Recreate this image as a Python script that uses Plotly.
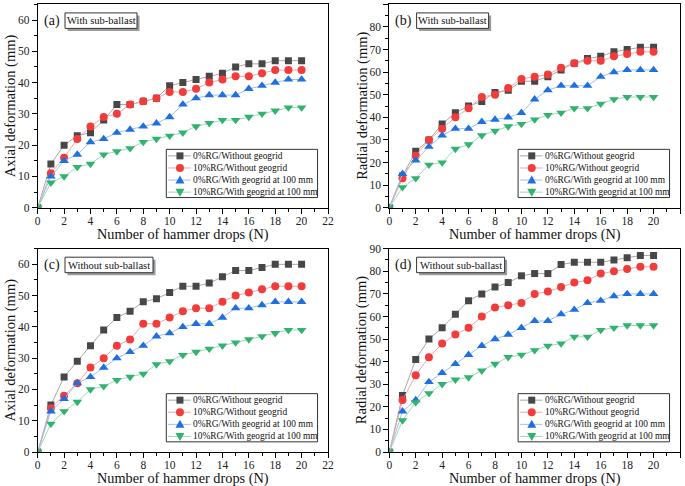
import plotly.graph_objects as go

# hammer drops
drops = list(range(0, 21))

series_names = ['0%RG/Without geogrid', '10%RG/Without geogrid',
                '0%RG/With geogrid at 100 mm', '10%RG/With geogrid at 100 mm']

# (a) axial, with sub-ballast
a_rg0 = [0, 14, 20, 23, 24, 28, 33, 33, 34, 35, 39, 40, 41, 42, 43, 45, 46, 46, 47, 47, 47]
a_rg10 = [0, 11, 16, 22, 26, 29, 30, 33, 34, 35, 37, 37, 38, 40, 41, 42, 42, 43, 44, 44, 44]
a_rg0_geo = [0, 10, 15, 17, 21, 22, 24, 25, 26, 27, 29, 33, 35, 36, 36, 36, 38, 39, 40, 41, 41]
a_rg10_geo = [0, 8, 10, 13, 14, 17, 18, 19, 21, 22, 23, 24, 26, 27, 28, 28, 29, 30, 31, 32, 32]

# (b) radial, with sub-ballast
b_rg0 = [0, 14, 25, 30, 37, 42, 45, 47, 51, 52, 56, 56, 58, 61, 64, 66, 67, 69, 70, 71, 71]
b_rg10 = [0, 13, 23, 30, 35, 40, 44, 49, 50, 53, 57, 58, 59, 62, 64, 65, 65, 67, 68, 69, 69]
b_rg0_geo = [0, 15, 21, 27, 32, 35, 35, 38, 39, 40, 42, 48, 52, 54, 54, 54, 58, 60, 61, 61, 61]
b_rg10_geo = [0, 9, 13, 19, 20, 26, 28, 32, 34, 36, 37, 39, 41, 42, 44, 44, 46, 48, 49, 49, 49]

# (c) axial, without sub-ballast
c_rg0 = [0, 15, 24, 29, 34, 39, 43, 45, 48, 49, 51, 53, 53, 54, 56, 58, 58, 59, 60, 60, 60]
c_rg10 = [0, 14, 18, 22, 27, 30, 34, 36, 41, 41, 43, 45, 46, 46, 48, 50, 51, 52, 53, 53, 53]
c_rg0_geo = [0, 13, 17, 22, 24, 27, 30, 32, 34, 37, 38, 40, 41, 41, 43, 46, 46, 47, 48, 48, 48]
c_rg10_geo = [0, 9, 13, 16, 20, 21, 23, 24, 25, 28, 29, 31, 32, 33, 34, 35, 36, 37, 38, 39, 39]

# (d) radial, without sub-ballast
d_rg0 = [0, 25, 41, 50, 55, 61, 67, 70, 73, 75, 78, 79, 79, 83, 84, 84, 84, 85, 86, 87, 87]
d_rg10 = [0, 23, 34, 42, 48, 52, 55, 60, 64, 65, 66, 70, 71, 73, 75, 76, 79, 80, 81, 82, 82]
d_rg0_geo = [0, 18, 23, 31, 35, 39, 43, 47, 50, 52, 55, 58, 58, 61, 63, 66, 67, 69, 70, 70, 70]
d_rg10_geo = [0, 14, 22, 26, 30, 32, 33, 36, 39, 42, 43, 45, 47, 48, 51, 51, 54, 55, 56, 56, 56]

marker_colors = ['#474747', '#f23b3b', '#1f6fe0', '#2fb36e']
line_colors = ['#a8a8a8', '#f7a3a3', '#9cc0f0', '#9ed9b8']
symbols = ['square', 'circle', 'triangle-up', 'triangle-down']
sizes = [7, 8, 8.5, 8.5]

FONT = 'Liberation Serif, Times New Roman, serif'

panels = [
    dict(tag='(a)', note='With sub-ballast', note_w=72, ytitle='Axial deformation (mm)',
         ymax=65, data=[a_rg0, a_rg10, a_rg0_geo, a_rg10_geo]),
    dict(tag='(b)', note='With sub-ballast', note_w=72, ytitle='Radial deformation (mm)',
         ymax=90, data=[b_rg0, b_rg10, b_rg0_geo, b_rg10_geo]),
    dict(tag='(c)', note='Without sub-ballast', note_w=88, ytitle='Axial deformation (mm)',
         ymax=65, data=[c_rg0, c_rg10, c_rg0_geo, c_rg10_geo]),
    dict(tag='(d)', note='Without sub-ballast', note_w=88, ytitle='Radial deformation (mm)',
         ymax=90, data=[d_rg0, d_rg10, d_rg0_geo, d_rg10_geo]),
]

W, H = 685, 486
# plot areas in pixels: left, right, top, bottom
boxes = [(37.7, 328.0, 4.4, 207.7), (389.3, 680.0, 4.4, 207.7),
         (37.7, 328.0, 248.7, 452.0), (389.3, 680.0, 248.7, 452.0)]

fig = go.Figure()
shapes = []
annotations = []

for i, (p, (l, r, t, b)) in enumerate(zip(panels, boxes)):
    n = i + 1
    xa = 'x' if n == 1 else 'x%d' % n
    ya = 'y' if n == 1 else 'y%d' % n
    for k in range(4):
        fig.add_trace(go.Scatter(
            x=drops, y=p['data'][k], mode='lines+markers', name=series_names[k],
            xaxis=xa, yaxis=ya, showlegend=False,
            line=dict(color=line_colors[k], width=1),
            marker=dict(symbol=symbols[k], size=sizes[k], color=marker_colors[k],
                        line=dict(width=0)),
        ))

    axis_common = dict(
        showline=True, linecolor='black', linewidth=1, mirror=True,
        ticks='outside', ticklen=5, tickwidth=1, tickcolor='black',
        showgrid=False, zeroline=False, automargin=False,
        tickfont=dict(family=FONT, size=11.5, color='#222'),
    )
    minor = dict(ticks='outside', ticklen=3, tickwidth=1, tickcolor='black')
    fig.layout[('xaxis' if n == 1 else 'xaxis%d' % n)] = dict(
        axis_common, domain=[l / W, r / W], anchor=ya, range=[0, 22],
        tick0=0, dtick=2, minor=dict(minor, dtick=1), ticklabelstandoff=-3,
    )
    fig.layout[('yaxis' if n == 1 else 'yaxis%d' % n)] = dict(
        axis_common, domain=[1 - b / H, 1 - t / H], anchor=xa, range=[0, p['ymax']],
        tick0=0, dtick=10, minor=dict(minor, dtick=5),
    )

    # axis titles
    annotations.append(dict(text='Number of hammer drops (N)', xref='paper', yref='paper',
                            x=(l + r) / 2 / W, y=1 - (b + 26.5) / H,
                            xanchor='center', yanchor='middle', showarrow=False,
                            borderpad=0, font=dict(family=FONT, size=14.3, color='#111')))
    annotations.append(dict(text=p['ytitle'], xref='paper', yref='paper', textangle=-90,
                            x=(l - 27.5) / W, y=1 - (t + b) / 2 / H,
                            xanchor='center', yanchor='middle', showarrow=False,
                            borderpad=0, font=dict(family=FONT, size=14.5, color='#111')))

    xd = xa + ' domain'
    yd = ya + ' domain'
    ph = b - t
    pw = r - l

    # panel tag
    annotations.append(dict(text=p['tag'], xref=xd, yref=yd, x=0.017, y=1 - 16.5 / ph,
                            xanchor='left', yanchor='middle', showarrow=False,
                            borderpad=0, font=dict(family=FONT, size=14, color='#111')))
    # note box with drop shadow
    w = p['note_w']
    box = dict(xref=xd, yref=yd, xsizemode='pixel', ysizemode='pixel',
               xanchor=0, yanchor=1, type='rect', layer='above')
    shapes.append(dict(box, x0=27.3 + 2.5, x1=27.3 + w + 2.5, y0=-8.5 - 2.5, y1=-24 - 2.5,
                       fillcolor='#9a9a9a', line=dict(width=0)))
    shapes.append(dict(box, x0=27.3, x1=27.3 + w, y0=-8.5, y1=-24,
                       fillcolor='white', line=dict(color='#333', width=1)))
    annotations.append(dict(text=p['note'], xref=xd, yref=yd,
                            x=(27.3 + w / 2) / pw, y=1 - 16.3 / ph,
                            xanchor='center', yanchor='middle', showarrow=False,
                            borderpad=0, font=dict(family=FONT, size=10.5, color='#111')))

    # legend box
    shapes.append(dict(type='rect', xref=xd, yref=yd, x0=0.443, x1=0.964, y0=0.05, y1=0.287,
                       line=dict(color='#333', width=1), fillcolor='white', layer='above'))
    for k in range(4):
        yk = 0.255 - k * 0.0595
        shapes.append(dict(type='line', xref=xd, yref=yd, x0=0.449, x1=0.527, y0=yk, y1=yk,
                           line=dict(color=line_colors[k], width=1), layer='above'))
        mk = dict(xref=xd, yref=yd, xsizemode='pixel', ysizemode='pixel',
                  xanchor=0.49, yanchor=yk, fillcolor=marker_colors[k],
                  line=dict(width=0), layer='above')
        if k == 0:
            mk.update(type='rect', x0=-3.5, x1=3.5, y0=-3.5, y1=3.5)
        elif k == 1:
            mk.update(type='circle', x0=-4, x1=4, y0=-4, y1=4)
        elif k == 2:
            mk.update(type='path', path='M-4.5,-3.5L4.5,-3.5L0,4.5Z')
        else:
            mk.update(type='path', path='M-4.5,3.5L4.5,3.5L0,-4.5Z')
        shapes.append(mk)
        annotations.append(dict(text=series_names[k], xref=xd, yref=yd, x=0.533, y=yk,
                                xanchor='left', yanchor='middle', showarrow=False,
                                borderpad=0, font=dict(family=FONT, size=9.4, color='#111')))

fig.update_layout(
    width=W, height=H, margin=dict(l=0, r=0, t=0, b=0, autoexpand=False),
    paper_bgcolor='white', plot_bgcolor='white',
    shapes=shapes, annotations=annotations, showlegend=False,
)

fig.write_html('out.html', config={'displayModeBar': False},
               post_script="document.body.style.margin='0';")
